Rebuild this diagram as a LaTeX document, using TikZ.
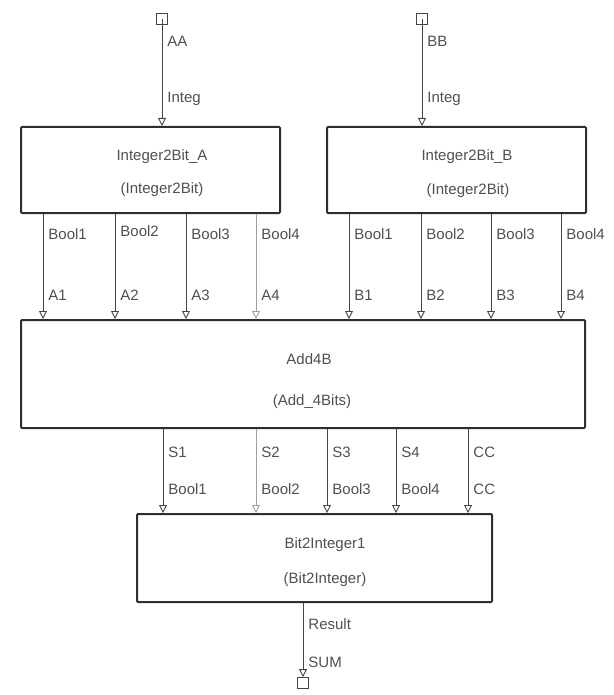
\documentclass[tikz,border=0pt]{standalone}
\usepackage{fontspec}
\setmainfont{Liberation Sans}
\usetikzlibrary{arrows.meta,positioning,calc}

\definecolor{wire}{HTML}{444444}
\definecolor{wirelt}{HTML}{A0A0A0}
\definecolor{frame}{HTML}{2E2E2E}
\definecolor{txt}{HTML}{505050}

\tikzset{
    block/.style={draw=frame, line width=2pt, rounded corners=1pt, fill=white, inner sep=0pt},
    port/.style={draw=wire, line width=0.8pt, minimum size=11pt, inner sep=0pt},
    sig/.style={draw=wire, line width=0.9pt, -{Triangle[open,length=8pt,width=8pt]}},
    faint/.style={draw=wirelt},
    lbl/.style={text=txt, anchor=west, inner sep=0pt, xshift=5pt, font=\fontsize{15}{17}\selectfont},
    blocktext/.style={text=txt, inner sep=0pt, font=\fontsize{15}{17}\selectfont}
}

\begin{document}
\begin{tikzpicture}[x=1pt, y=-1pt]
    \useasboundingbox (0,0) rectangle (613,695);

    % --- Blocks ---
    \node[block, minimum width=259pt, minimum height=86pt] (intA) at (150.5,170) {};
    \node[blocktext] (intAname) at (162,157) {Integer2Bit\_A};
    \node[blocktext] (intAtype) at (162,190) {(Integer2Bit)};

    \node[block, minimum width=259pt, minimum height=86pt] (intB) at (456.5,170) {};
    \node[blocktext] (intBname) at (467,157) {Integer2Bit\_B};
    \node[blocktext] (intBtype) at (468,191) {(Integer2Bit)};

    \node[block, minimum width=564pt, minimum height=108pt] (add) at (303,374) {};
    \node[blocktext] (addname) at (309,359) {Add4B};
    \node[blocktext] (addtype) at (312,402) {(Add\_4Bits)};

    \node[block, minimum width=355pt, minimum height=88pt] (bitInt) at (314.5,558) {};
    \node[blocktext] (bitname) at (325,545) {Bit2Integer1};
    \node[blocktext] (bittype) at (325,580) {(Bit2Integer)};

    % --- Ports ---
    \node[port] (AA) at (162,19) {};
    \node[port] (BB) at (422,19) {};
    \node[port] (SUM) at (303,683) {};

    % pin columns
    \coordinate (xA1) at (43,0);  \coordinate (xA2) at (115,0);
    \coordinate (xA3) at (186,0); \coordinate (xA4) at (256,0);
    \coordinate (xB1) at (349,0); \coordinate (xB2) at (421,0);
    \coordinate (xB3) at (491,0); \coordinate (xB4) at (561,0);
    \coordinate (xS1) at (163,0); \coordinate (xS2) at (256,0);
    \coordinate (xS3) at (327,0); \coordinate (xS4) at (396,0);
    \coordinate (xCC) at (468,0);

    % --- Inputs ---
    \draw[sig] (AA.center) -- node[lbl, pos=0.21] {AA} node[lbl, pos=0.75] {Integ} (intA.north -| AA);
    \draw[sig] (BB.center) -- node[lbl, pos=0.21] {BB} node[lbl, pos=0.75] {Integ} (intB.north -| BB);

    % --- Integer2Bit_A -> Add4B ---
    \draw[sig] (intA.south -| xA1) -- node[lbl, pos=0.19] {Bool1} node[lbl, pos=0.77] {A1} (add.north -| xA1);
    \draw[sig] (intA.south -| xA2) -- node[lbl, pos=0.16] {Bool2} node[lbl, pos=0.77] {A2} (add.north -| xA2);
    \draw[sig] (intA.south -| xA3) -- node[lbl, pos=0.19] {Bool3} node[lbl, pos=0.77] {A3} (add.north -| xA3);
    \draw[sig, faint] (intA.south -| xA4) -- node[lbl, pos=0.19] {Bool4} node[lbl, pos=0.77] {A4} (add.north -| xA4);

    % --- Integer2Bit_B -> Add4B ---
    \draw[sig] (intB.south -| xB1) -- node[lbl, pos=0.19] {Bool1} node[lbl, pos=0.77] {B1} (add.north -| xB1);
    \draw[sig] (intB.south -| xB2) -- node[lbl, pos=0.19] {Bool2} node[lbl, pos=0.77] {B2} (add.north -| xB2);
    \draw[sig] (intB.south -| xB3) -- node[lbl, pos=0.19] {Bool3} node[lbl, pos=0.77] {B3} (add.north -| xB3);
    \draw[sig] (intB.south -| xB4) -- node[lbl, pos=0.19] {Bool4} node[lbl, pos=0.77] {B4} (add.north -| xB4);

    % --- Add4B -> Bit2Integer1 ---
    \draw[sig] (add.south -| xS1) -- node[lbl, pos=0.28] {S1} node[lbl, pos=0.72] {Bool1} (bitInt.north -| xS1);
    \draw[sig, faint] (add.south -| xS2) -- node[lbl, pos=0.28] {S2} node[lbl, pos=0.72] {Bool2} (bitInt.north -| xS2);
    \draw[sig] (add.south -| xS3) -- node[lbl, pos=0.28] {S3} node[lbl, pos=0.72] {Bool3} (bitInt.north -| xS3);
    \draw[sig] (add.south -| xS4) -- node[lbl, pos=0.28] {S4} node[lbl, pos=0.72] {Bool4} (bitInt.north -| xS4);
    \draw[sig] (add.south -| xCC) -- node[lbl, pos=0.28] {CC} node[lbl, pos=0.72] {CC} (bitInt.north -| xCC);

    % --- Output ---
    \draw[sig] (bitInt.south -| SUM) -- node[lbl, pos=0.28] {Result} node[lbl, pos=0.8] {SUM} (SUM.north);

\end{tikzpicture}
\end{document}
